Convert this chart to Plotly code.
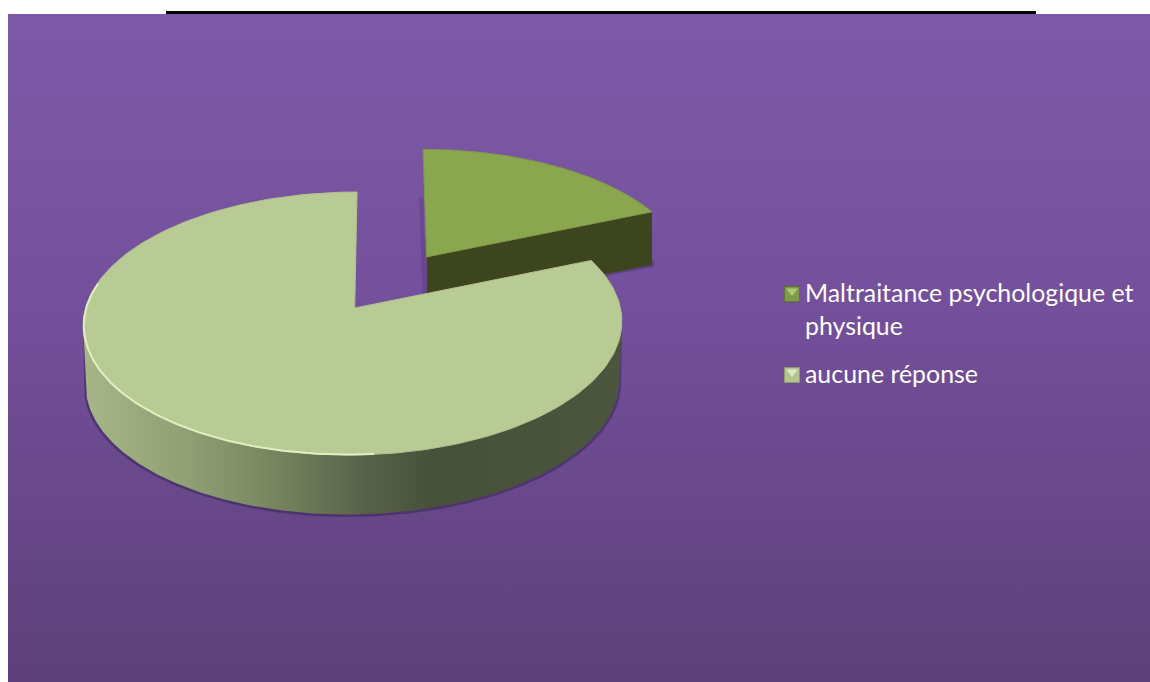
import numpy as np
import plotly.graph_objects as go

categories = ["Maltraitance psychologique et<br>physique", "aucune réponse"]
values = [18.75, 81.25]

W, H = 1150, 682
CY = 308.0
A, B, K = 267.5, 129.7, 0.118
DEPTH_BIG, DEPTH_SMALL = 59.5, 53
EXPLODE = (0.29, 0.43)


def project(u, v, cx=353.0, shear=0.035):
    """Pie plane (unit circle, v towards the back) to the chart's axes."""
    u, v = np.asarray(u, float), np.asarray(v, float)
    w = 1 + K * v
    y = B * v / w
    return cx + A * u / w + shear * y, CY - y


def arc(t0, t1, n=240):
    t = np.radians(np.linspace(t0, t1, n))
    return np.sin(t), np.cos(t)


shares = np.array(values) / sum(values) * 360.0
small_end = shares[0]

fig = go.Figure()


def poly(x, y, **kw):
    fig.add_trace(go.Scatter(x=np.r_[x, x[0]], y=np.r_[y, y[0]], mode="lines", fill="toself",
                             hoverinfo="skip", showlegend=False, **kw))


# background
poly(np.array([8, W, W, 8]), np.array([14, 14, H, H]), line=dict(width=0),
     fillgradient=dict(type="vertical", start=14, stop=H,
                       colorscale=[[0, "#7D5AA8"], [0.45, "#744F9B"], [1, "#5D4079"]]))

# exploded slice
u, v = arc(0, small_end)
su, sv = np.r_[EXPLODE[0], u + EXPLODE[0]], np.r_[EXPLODE[1], v + EXPLODE[1]]
sx, sy = project(su, sv, cx=354.0, shear=0.017)
sx[0] -= 2
sy[0] += 2
# soft shadow of the exploded slice
poly(np.array([sx[0] - 4, sx[1] - 4, sx[1], sx[0]]), np.array([sy[0] + 38, sy[1] + 48, sy[1] + 48, sy[0] + 38]),
     line=dict(width=0), fillcolor="rgba(50,30,80,0.2)")
poly(np.array([sx[0], sx[-1] + 2, sx[-1] + 2, sx[0]]),
     np.array([sy[0] + DEPTH_SMALL - 12, sy[-1] + DEPTH_SMALL - 4, sy[-1] + DEPTH_SMALL + 2, sy[0] + DEPTH_SMALL]),
     line=dict(width=0), fillcolor="rgba(50,30,80,0.3)")
poly(np.array([sx[0], sx[-1], sx[-1], sx[0]]),
     np.array([sy[0], sy[-1], sy[-1] + DEPTH_SMALL, sy[0] + DEPTH_SMALL]),
     line=dict(width=0), fillcolor="#3D451F")
poly(sx, sy, line=dict(width=1, color="#7F9A48"), fillcolor="#8AA64E")

# main slice
t_right = 90 + np.degrees(np.arcsin(K))
t_left = 360 - t_right
fu, fv = arc(t_right, t_left)
fx, fy = project(fu, fv)
# the base ellipse is a touch narrower than the top (perspective)
mid = 0.5 * (fx.min() + fx.max())
bottom_x = mid + (fx - mid) * 0.99
poly(np.r_[fx, bottom_x[::-1]] + np.r_[np.full(fx.size, 0), np.linspace(-2, 2, fx.size)],
     np.r_[fy, fy[::-1] + DEPTH_BIG + 2.5], line=dict(width=0), fillcolor="rgba(40,22,70,0.4)")
poly(np.r_[fx, bottom_x[::-1]], np.r_[fy, fy[::-1] + DEPTH_BIG], line=dict(width=0),
     fillgradient=dict(type="horizontal", start=float(fx.min()), stop=float(fx.max()),
                       colorscale=[[0, "#A6B688"], [0.20, "#8F9F74"], [0.35, "#77865F"],
                                   [0.52, "#58624A"], [0.65, "#47503A"], [1, "#4C553D"]]))
u, v = arc(small_end, 360)
bx, by = project(np.r_[0, u], np.r_[0, v])
bx[0] += 1.7
poly(bx, by, line=dict(width=1, color="#AFC18B"), fillcolor="#B9CB94")
# bevel highlight along the front-left rim
u, v = arc(t_left + 18, 175, 160)
rx, ry = project(u * 0.997, v * 0.997)
fig.add_trace(go.Scatter(x=rx, y=ry, mode="lines", line=dict(width=2, color="#DDF0BE"),
                         hoverinfo="skip", showlegend=False))

# legend
swatch_colors = ["#7F9A48", "#B3C58E"]
tip_colors = ["#AFC874", "#DCE8C4"]
edge_colors = ["#5F7532", "#8C9C6C"]
swatch_y = [294, 375]
text_y = [[292, 325], [373]]
for i, cat in enumerate(categories):
    fig.add_trace(go.Scatter(x=[792], y=[swatch_y[i]], mode="markers", name=cat.replace("<br>", " "),
                             marker=dict(symbol="square", size=15, color=swatch_colors[i],
                                         line=dict(width=1, color=edge_colors[i])),
                             hoverinfo="skip", showlegend=False))
    fig.add_trace(go.Scatter(x=[792], y=[swatch_y[i] - 3], mode="markers",
                             marker=dict(symbol="triangle-down", size=10, color=tip_colors[i]),
                             hoverinfo="skip", showlegend=False))
    for line, y in zip(cat.split("<br>"), text_y[i]):
        fig.add_annotation(x=805, y=y, xref="x", yref="y", text=line, showarrow=False,
                           xanchor="left", yanchor="middle", xshift=-2,
                           font=dict(family="Lato", size=24.9, color="#FFFFFF"))

fig.add_shape(type="rect", x0=166, x1=1036, y0=11, y1=14, xref="x", yref="y",
              fillcolor="#000000", line=dict(width=0))

fig.update_layout(width=W, height=H, margin=dict(l=0, r=0, t=0, b=0),
                  paper_bgcolor="#FFFFFF", plot_bgcolor="#FFFFFF", showlegend=False,
                  xaxis=dict(range=[0, W], visible=False, fixedrange=True),
                  yaxis=dict(range=[H, 0], visible=False, fixedrange=True))
fig.write_html("out.html", config={"displayModeBar": False},
               post_script="document.body.style.margin='0';document.body.style.overflow='hidden';")
